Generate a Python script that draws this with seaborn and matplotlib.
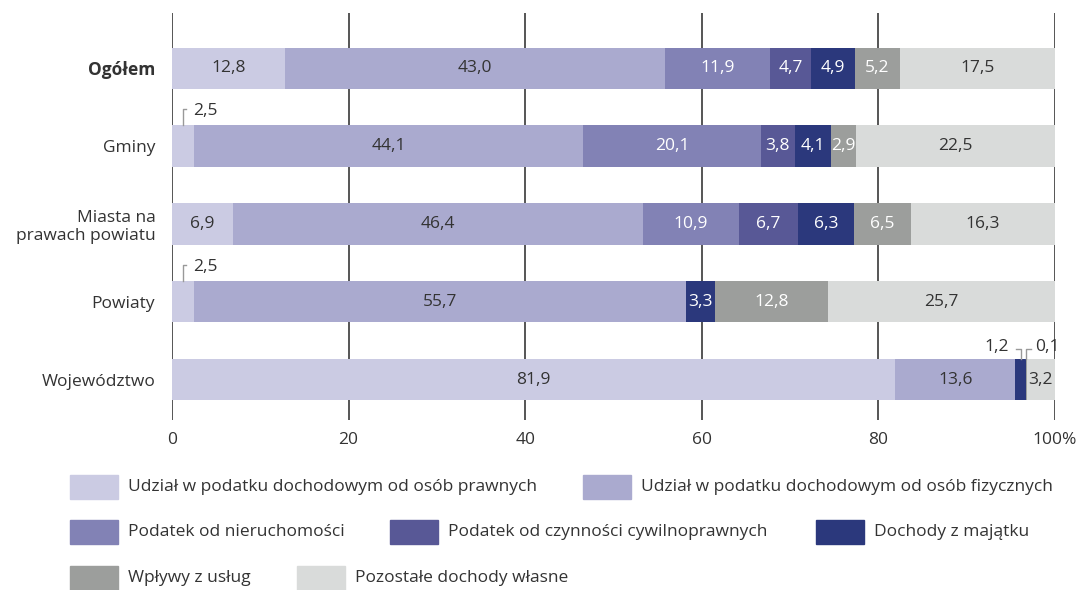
import numpy as np
import pandas as pd
import matplotlib
matplotlib.use("Agg")
import matplotlib.pyplot as plt
from matplotlib.patches import Rectangle
import seaborn as sns

# Data
rows = ["Ogółem", "Gminy", "Miasta na\nprawach powiatu", "Powiaty", "Województwo"]
series = ["Udział w podatku dochodowym od osób prawnych",
          "Udział w podatku dochodowym od osób fizycznych",
          "Podatek od nieruchomości",
          "Podatek od czynności cywilnoprawnych",
          "Dochody z majątku",
          "Wpływy z usług",
          "Pozostałe dochody własne"]
cit = [12.8, 2.5, 6.9, 2.5, 81.9]
pit = [43.0, 44.1, 46.4, 55.7, 13.6]
nieruch = [11.9, 20.1, 10.9, 0.0, 0.0]
cywil = [4.7, 3.8, 6.7, 0.0, 0.0]
majatek = [4.9, 4.1, 6.3, 3.3, 1.2]
uslugi = [5.2, 2.9, 6.5, 12.8, 0.1]
pozostale = [17.5, 22.5, 16.3, 25.7, 3.2]
xticks = [0, 20, 40, 60, 80, 100]
xticklabels = ["0", "20", "40", "60", "80", "100%"]

colors = ["#cbcbe3", "#aaaacf", "#8282b5", "#585896", "#2b387c", "#9c9e9c", "#d9dbda"]
text_colors = ["#333333", "#333333", "white", "white", "white", "white", "#333333"]

plt.rcParams['font.family'] = ['Open Sans', 'DejaVu Sans']
FS = 12.5

values = np.array([cit, pit, nieruch, cywil, majatek, uslugi, pozostale])
cum = np.cumsum(values, axis=0)
df = pd.DataFrame(cum.T, columns=series)
df["row"] = rows

fig = plt.figure(figsize=(10.86, 5.90), dpi=100)
ax = fig.add_axes([172 / 1086, 1 - 420 / 590, 883 / 1086, 407 / 590])

# gridlines behind bars
for t in xticks:
    ax.axvline(t, color="#555555", lw=1.4, zorder=0)

# stacked bars: draw cumulative totals from widest to narrowest
for k in range(len(series) - 1, -1, -1):
    sns.barplot(data=df, x=series[k], y="row", color=colors[k], orient="h",
                width=0.53, ax=ax, zorder=2, linewidth=0, saturation=1)

# labels inside segments
small = {(1, 0), (3, 0), (4, 4), (4, 5)}
for i in range(len(rows)):
    for k in range(len(series)):
        v = values[k, i]
        if v == 0 or (i, k) in small:
            continue
        xc = cum[k, i] - v / 2
        ax.text(xc, i, f"{v:.1f}".replace(".", ","), ha="center", va="center",
                fontsize=FS, color=text_colors[k], zorder=5)

# leader labels for tiny segments
lc = "#999999"
for i in (1, 3):
    xm = cit[i] / 2
    ax.plot([xm, xm, xm + 0.35], [i - 0.265, i - 0.475, i - 0.475], color=lc, lw=1, zorder=5)
    ax.text(xm + 1.1, i - 0.45, f"{cit[i]:.1f}".replace(".", ","), ha="left", va="center",
            fontsize=FS, color="#333333")
i = 4
xm = cum[3, i] + majatek[i] / 2
ax.plot([xm, xm, xm - 0.5], [i - 0.265, i - 0.39, i - 0.39], color=lc, lw=1, zorder=5)
ax.text(xm - 1.3, i - 0.42, f"{majatek[i]:.1f}".replace(".", ","), ha="right", va="center",
        fontsize=FS, color="#333333")
xm = cum[4, i] + uslugi[i] / 2
ax.plot([xm, xm, xm + 0.5], [i - 0.265, i - 0.39, i - 0.39], color=lc, lw=1, zorder=5)
ax.text(xm + 1.0, i - 0.42, f"{uslugi[i]:.1f}".replace(".", ","), ha="left", va="center",
        fontsize=FS, color="#333333")

ax.set_xlim(0, 100)
ax.set_ylim(4.52, -0.71)
ax.set_xticks(xticks)
ax.set_xticklabels(xticklabels, fontsize=FS, color="#333333")
ax.set_yticks(range(len(rows)))
ax.set_yticklabels(rows, fontsize=FS, color="#333333")
ax.get_yticklabels()[0].set_fontweight("bold")
ax.tick_params(length=0, axis="x", pad=9)
ax.tick_params(length=0, axis="y", pad=12)
ax.set_xlabel("")
ax.set_ylabel("")
for s in ax.spines.values():
    s.set_visible(False)
ax.set_facecolor("none")

# legend laid out manually in pixel positions
W, H = 1086, 590
legend_items = [(70, 487, 0), (583, 487, 1),
                (70, 532, 2), (390, 532, 3), (816, 532, 4),
                (70, 578, 5), (297, 578, 6)]
for px, py, k in legend_items:
    fig.patches.append(Rectangle((px / W, 1 - (py + 12) / H), 48 / W, 24 / H,
                                 transform=fig.transFigure, color=colors[k]))
    fig.text((px + 58) / W, 1 - py / H, series[k], ha="left", va="center",
             fontsize=FS, color="#333333")

fig.savefig("out.png", dpi=100)
